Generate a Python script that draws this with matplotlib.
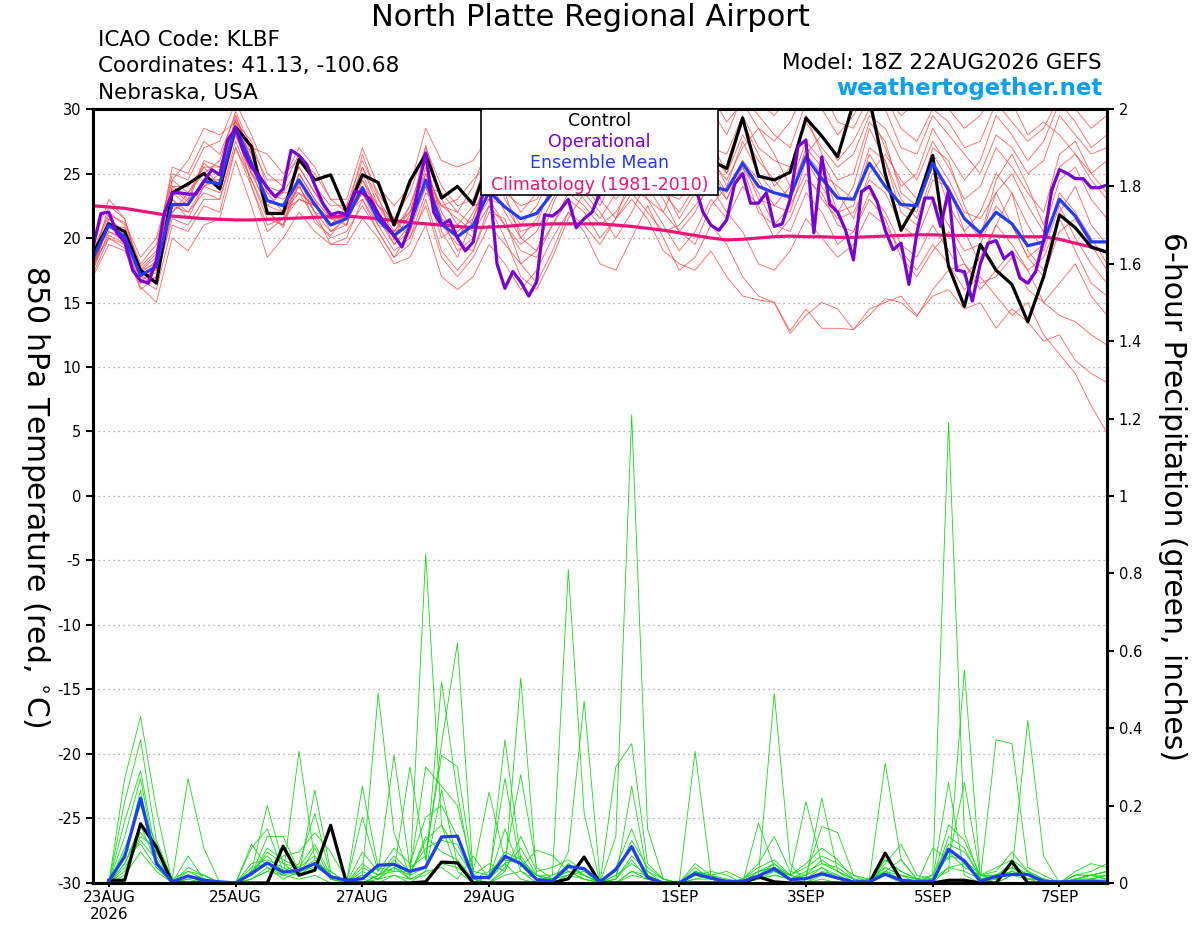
import numpy as np
from matplotlib import pyplot as plt
from matplotlib.patches import Rectangle

plt.rcParams['font.family'] = ['DejaVu Sans']
plt.rcParams['axes.unicode_minus'] = False

# 6-hourly steps from 18Z 22AUG2026 (index 0) to 18Z 7SEP2026 (index 64)
tick_pos = [1, 9, 17, 25, 37, 45, 53, 61]
tick_labels = ['23AUG\n2026', '25AUG', '27AUG', '29AUG', '1SEP', '3SEP', '5SEP', '7SEP']

control = [18.8, 21.1, 20.5, 17.5, 16.5, 23.5, 24.2, 25.0, 23.8, 28.6, 27.1, 21.9, 21.9,
           26.1, 24.5, 24.9, 22.0, 24.9, 24.3, 21.0, 24.4, 26.5, 23.1, 24.0, 22.6, 26.0,
           27.5, 26.0, 25.0, 26.5, 28.0, 27.0, 25.5, 24.8, 26.0, 27.5, 26.5, 25.0, 25.5,
           26.0, 25.4, 29.3, 24.8, 24.5, 25.1, 29.3, 27.9, 26.3, 30.5, 30.8, 25.0, 20.6,
           22.7, 26.4, 17.8, 14.7, 19.5, 17.5, 16.4, 13.5, 17.0, 21.8, 20.8, 19.3, 18.9]

ens_mean = [18.4, 21.0, 20.1, 17.1, 17.8, 22.6, 22.6, 24.4, 24.2, 28.6, 25.8, 22.9, 22.5,
            24.5, 22.6, 21.0, 21.5, 23.9, 21.4, 20.2, 21.1, 24.5, 21.1, 20.1, 21.0, 23.6,
            22.4, 21.5, 21.9, 23.5, 24.5, 24.8, 24.0, 24.6, 25.0, 24.3, 24.8, 24.2, 24.3,
            24.0, 23.7, 25.8, 24.0, 23.5, 23.2, 26.3, 24.6, 23.1, 23.0, 25.8, 24.0, 22.6,
            22.5, 25.8, 23.7, 21.5, 20.4, 22.0, 21.1, 19.4, 19.7, 23.0, 21.7, 19.7, 19.7]

climo = [22.5, 22.4, 22.3, 22.1, 21.9, 21.7, 21.6, 21.5, 21.45, 21.4, 21.4, 21.45, 21.5,
         21.55, 21.6, 21.65, 21.7, 21.6, 21.5, 21.35, 21.2, 21.1, 21.0, 20.9, 20.8, 20.85,
         20.9, 21.0, 21.05, 21.1, 21.1, 21.1, 21.1, 21.0, 20.9, 20.75, 20.6, 20.4, 20.2,
         20.0, 19.85, 19.9, 20.0, 20.1, 20.15, 20.1, 20.1, 20.05, 20.05, 20.1, 20.15, 20.2,
         20.25, 20.25, 20.2, 20.2, 20.2, 20.15, 20.1, 20.1, 20.1, 19.9, 19.6, 19.3, 18.9]

# operational run, 3-hourly
operational = [19.3, 21.9, 22.0, 20.4, 19.7, 17.5, 16.7, 16.5, 18.3, 21.9,
               23.5, 23.5, 23.4, 23.4, 24.4, 25.3, 24.9, 27.6, 28.5, 26.7,
               25.5, 24.8, 23.9, 23.2, 23.8, 26.8, 26.4, 25.7, 24.1, 22.7,
               21.8, 22.0, 21.8, 23.6, 23.5, 23.0, 21.9, 21.0, 20.2, 19.3,
               20.9, 23.7, 26.6, 22.0, 21.0, 21.4, 20.0, 19.0, 19.7, 23.0,
               24.5, 18.0, 16.1, 17.4, 16.6, 15.5, 16.6, 21.8, 21.7, 22.2,
               23.0, 20.8, 21.5, 22.0, 23.5, 25.0, 24.5, 26.0, 25.5, 24.0,
               25.0, 26.5, 25.0, 24.5, 25.5, 24.8, 24.0, 22.0, 21.0, 20.6,
               21.4, 24.2, 25.0, 22.7, 22.7, 23.5, 20.9, 21.1, 23.0, 27.1,
               27.6, 20.4, 26.3, 22.6, 22.0, 20.6, 18.3, 23.6, 24.0, 22.8,
               20.6, 19.1, 19.6, 16.4, 20.4, 23.1, 23.1, 20.9, 23.7, 17.5,
               17.4, 15.1, 18.0, 19.6, 19.8, 18.4, 18.9, 16.9, 16.5, 17.4,
               19.8, 23.7, 25.3, 25.0, 24.6, 24.6, 23.9, 23.9, 24.1]

members = [
    [17.5, 20.5, 19.8, 17.0, 16.5, 22.0, 23.5, 25.5, 24.0, 29.5, 26.5, 22.0, 21.0,
     25.0, 23.0, 20.5, 21.0, 24.5, 22.0, 19.5, 20.5, 25.0, 21.5, 19.0, 20.0, 24.0,
     22.5, 20.5, 21.0, 24.5, 26.0, 24.0, 22.5, 25.0, 27.0, 26.0, 23.5, 22.0, 24.0,
     26.5, 25.0, 28.0, 26.0, 24.5, 23.0, 27.0, 25.5, 22.0, 24.0, 28.5, 26.0, 23.0,
     21.5, 25.0, 24.0, 20.5, 18.0, 21.0, 23.5, 19.0, 17.5, 22.0, 24.0, 21.0, 19.5],
    [18.0, 21.5, 20.5, 17.5, 18.5, 23.0, 22.0, 24.0, 25.0, 28.0, 25.0, 23.5, 23.0,
     24.0, 22.0, 21.5, 22.0, 23.0, 21.0, 20.5, 22.0, 24.0, 20.0, 21.0, 22.5, 23.0,
     21.0, 19.0, 18.5, 21.0, 23.0, 22.0, 20.0, 21.5, 23.5, 22.0, 20.5, 21.0, 22.5,
     24.0, 22.0, 20.5, 18.0, 17.5, 19.0, 21.5, 20.0, 18.5, 19.5, 22.0, 21.0, 19.0,
     17.5, 19.5, 18.0, 16.0, 17.0, 15.5, 14.0, 15.0, 12.5, 11.0, 9.5, 7.0, 4.9],
    [17.0, 19.5, 19.0, 16.5, 17.0, 21.5, 21.0, 23.0, 23.0, 27.5, 24.5, 22.0, 22.0,
     23.5, 21.5, 20.0, 20.5, 22.5, 20.5, 18.5, 19.5, 23.0, 19.0, 17.5, 19.0, 22.0,
     21.5, 18.0, 16.5, 19.0, 22.0, 20.5, 18.0, 17.5, 20.0, 22.5, 20.0, 17.5, 18.5,
     21.0, 19.5, 17.0, 15.5, 15.0, 12.8, 14.5, 13.0, 13.0, 12.9, 14.5, 15.0, 15.5,
     14.0, 15.5, 16.0, 14.5, 15.0, 13.0, 14.5, 13.5, 12.0, 12.5, 10.5, 9.5, 8.8],
    [19.0, 22.0, 21.0, 18.0, 19.5, 25.0, 24.5, 27.0, 27.5, 30.5, 28.0, 25.0, 24.0,
     26.5, 24.0, 22.5, 22.5, 26.0, 23.5, 21.5, 23.5, 27.0, 24.0, 22.5, 23.0, 26.5,
     25.0, 24.0, 25.0, 27.5, 29.0, 28.5, 27.0, 28.0, 30.5, 29.5, 27.5, 26.0, 27.5,
     30.0, 28.0, 31.0, 29.5, 28.0, 27.0, 30.5, 31.5, 29.0, 28.5, 31.0, 30.0, 27.0,
     26.5, 29.5, 28.0, 26.5, 25.0, 28.0, 27.0, 25.0, 26.0, 29.5, 28.0, 26.5, 27.0],
    [18.5, 21.0, 20.0, 16.8, 16.0, 21.0, 20.5, 22.5, 22.0, 27.0, 24.0, 20.5, 21.5,
     23.0, 22.5, 21.0, 22.0, 24.0, 22.5, 21.0, 21.5, 24.5, 22.5, 21.5, 20.5, 22.5,
     20.0, 17.0, 16.0, 18.5, 21.5, 23.5, 22.0, 20.0, 22.0, 24.5, 23.0, 20.5, 19.5,
     22.5, 24.0, 25.5, 22.0, 21.0, 22.5, 25.0, 23.0, 21.5, 22.0, 24.5, 23.5, 21.0,
     20.0, 23.0, 21.0, 19.0, 19.5, 22.5, 21.0, 18.5, 19.5, 23.5, 22.0, 20.0, 18.0],
    [19.5, 23.0, 21.5, 17.5, 18.0, 24.0, 23.0, 26.0, 25.5, 29.0, 27.5, 24.0, 23.5,
     25.5, 23.5, 22.0, 21.0, 25.0, 22.0, 20.0, 22.5, 26.0, 20.5, 18.5, 21.5, 25.5,
     24.0, 22.0, 23.5, 26.0, 27.5, 25.5, 24.5, 27.0, 28.5, 27.0, 25.0, 24.0, 25.5,
     27.0, 26.5, 29.5, 27.0, 26.0, 25.5, 29.0, 27.0, 25.5, 26.5, 29.5, 28.5, 26.0,
     24.5, 27.5, 25.5, 23.0, 24.0, 27.0, 25.5, 23.5, 22.0, 26.5, 27.5, 25.0, 23.5],
    [18.0, 20.0, 19.5, 16.2, 15.0, 20.0, 19.0, 21.0, 21.5, 26.0, 22.5, 18.5, 20.0,
     22.0, 20.5, 19.5, 19.5, 21.5, 20.0, 18.0, 18.5, 21.0, 17.0, 16.0, 17.0, 19.5,
     18.0, 16.0, 17.5, 20.0, 22.0, 21.0, 19.5, 21.5, 23.0, 21.5, 19.0, 18.0, 17.5,
     19.0, 17.0, 15.5, 15.2, 15.0, 12.6, 14.0, 15.0, 14.5, 12.9, 14.0, 15.3, 15.0,
     13.9, 16.0, 17.5, 18.0, 16.5, 17.0, 18.5, 16.0, 15.0, 14.0, 13.5, 12.5, 11.7],
    [17.8, 21.0, 20.8, 17.8, 19.0, 25.5, 25.0, 27.5, 26.5, 29.5, 26.0, 22.5, 22.0,
     24.0, 22.0, 20.5, 21.5, 23.5, 21.0, 19.0, 20.0, 23.5, 22.5, 23.0, 24.5, 26.0,
     23.0, 21.0, 22.5, 25.0, 26.5, 24.0, 23.0, 26.5, 25.5, 23.0, 22.0, 25.0, 27.0,
     25.5, 23.0, 26.0, 24.5, 22.5, 24.0, 27.5, 26.0, 23.5, 21.5, 25.0, 26.5, 24.5,
     23.0, 26.0, 22.5, 20.5, 22.0, 25.0, 23.5, 21.0, 19.0, 22.5, 20.0, 18.0, 16.5],
    [18.2, 22.5, 21.5, 17.2, 17.5, 23.5, 22.5, 24.5, 24.5, 28.5, 25.5, 23.0, 22.5,
     25.5, 23.5, 21.5, 21.0, 24.0, 21.5, 19.5, 21.0, 25.5, 22.0, 20.0, 22.0, 24.5,
     23.5, 22.5, 23.0, 25.0, 24.5, 27.0, 26.0, 24.5, 26.0, 28.0, 26.5, 23.5, 24.5,
     26.0, 24.5, 27.0, 28.5, 26.5, 24.0, 26.5, 28.0, 26.0, 27.5, 30.0, 27.0, 24.0,
     25.0, 28.5, 26.5, 24.5, 26.0, 29.5, 28.0, 26.0, 27.5, 30.5, 29.0, 27.0, 28.0],
    [17.2, 20.0, 19.2, 16.0, 17.0, 22.5, 22.0, 23.5, 23.0, 27.0, 24.5, 21.5, 21.0,
     24.5, 22.0, 19.5, 20.0, 23.0, 20.5, 18.5, 20.5, 24.0, 21.0, 19.5, 19.0, 22.5,
     21.0, 19.5, 20.5, 23.0, 25.0, 23.0, 21.5, 23.5, 25.5, 24.0, 22.0, 20.5, 22.0,
     24.5, 23.0, 25.5, 23.5, 21.0, 20.5, 23.5, 22.0, 19.5, 20.5, 23.5, 22.0, 19.5,
     18.5, 21.0, 19.0, 17.0, 18.5, 21.0, 19.5, 17.5, 18.5, 21.5, 19.0, 16.5, 15.5],
    [18.8, 21.8, 21.2, 18.5, 20.0, 24.5, 26.0, 28.5, 28.0, 29.0, 27.0, 26.5, 25.0,
     26.0, 25.0, 23.0, 23.0, 27.0, 24.0, 22.5, 24.0, 28.5, 26.0, 25.5, 26.0, 28.0,
     27.0, 25.0, 26.0, 28.5, 30.5, 29.0, 27.5, 29.0, 31.0, 29.5, 28.0, 27.0, 29.0,
     31.0, 29.0, 30.5, 28.5, 27.5, 29.0, 31.5, 30.0, 28.0, 29.5, 32.0, 31.0, 28.5,
     27.5, 30.0, 29.0, 27.0, 27.5, 30.5, 29.0, 27.5, 28.5, 31.0, 30.0, 28.5, 29.5],
    [18.0, 20.8, 20.2, 17.3, 18.2, 23.0, 21.5, 24.0, 23.5, 28.0, 25.0, 22.5, 23.5,
     23.5, 22.5, 21.0, 22.5, 24.5, 22.5, 21.5, 20.0, 22.5, 18.5, 17.0, 18.5, 21.0,
     19.5, 18.0, 19.0, 21.0, 23.5, 22.5, 21.0, 22.0, 24.0, 23.0, 21.0, 19.0, 20.5,
     23.0, 21.5, 24.0, 22.5, 20.0, 21.5, 24.5, 23.5, 21.0, 20.5, 23.0, 21.5, 18.5,
     17.0, 19.0, 20.5, 18.0, 16.0, 17.5, 19.0, 17.5, 15.0, 16.5, 18.0, 15.5, 14.0],
    [17.5, 21.2, 19.5, 16.5, 17.8, 24.0, 24.0, 25.5, 25.5, 28.8, 24.0, 21.0, 21.5,
     25.0, 23.0, 21.5, 22.0, 25.5, 22.5, 20.5, 22.5, 26.0, 21.5, 20.5, 21.5, 24.5,
     22.0, 20.0, 21.5, 24.0, 25.5, 24.5, 23.5, 25.5, 26.5, 25.5, 23.5, 23.0, 24.5,
     26.5, 24.0, 27.5, 25.0, 23.5, 23.0, 26.5, 25.0, 24.0, 23.0, 27.0, 26.0, 22.0,
     21.0, 24.5, 24.0, 21.5, 20.0, 23.5, 25.0, 22.5, 20.5, 24.5, 25.5, 23.0, 21.5],
    [18.6, 20.5, 20.0, 17.0, 17.3, 22.0, 23.0, 24.0, 24.5, 28.5, 26.5, 23.5, 22.0,
     23.0, 22.5, 21.5, 21.5, 23.5, 21.5, 20.5, 21.0, 24.0, 23.5, 22.0, 21.0, 23.0,
     22.5, 21.5, 22.0, 23.5, 24.0, 25.5, 24.5, 23.0, 24.5, 26.0, 25.0, 23.5, 24.0,
     25.5, 23.5, 26.0, 23.0, 22.5, 22.0, 26.0, 24.0, 22.0, 22.5, 26.5, 24.5, 22.5,
     22.0, 26.5, 24.5, 22.0, 21.5, 23.5, 21.0, 18.5, 17.0, 20.5, 21.5, 19.5, 17.5],
    [18.3, 21.5, 20.3, 17.6, 18.8, 24.5, 23.5, 25.0, 26.0, 29.8, 27.0, 24.5, 24.5,
     27.0, 25.5, 23.0, 22.0, 25.5, 23.0, 21.0, 22.0, 25.0, 22.5, 22.0, 24.0, 27.5,
     26.0, 23.5, 24.0, 27.0, 28.0, 26.5, 28.0, 30.0, 29.0, 27.0, 29.5, 30.5, 28.5,
     29.0, 31.0, 32.0, 30.5, 29.5, 31.0, 33.0, 31.5, 30.0, 31.5, 32.5, 31.0, 29.5,
     30.5, 32.0, 30.0, 28.5, 29.5, 31.5, 30.5, 28.0, 29.0, 28.0, 26.5, 25.0, 26.0],
    [17.9, 20.2, 19.6, 16.7, 17.6, 23.8, 22.8, 25.8, 24.8, 29.2, 25.2, 22.2, 20.8,
     24.2, 21.2, 20.2, 21.8, 26.5, 23.2, 19.8, 21.8, 27.2, 23.0, 21.0, 20.0, 25.0,
     23.5, 20.0, 19.0, 22.5, 25.5, 26.5, 23.0, 21.5, 25.0, 27.5, 24.0, 21.5, 23.5,
     27.5, 25.0, 29.0, 26.5, 24.0, 25.5, 29.5, 26.5, 24.5, 25.0, 29.0, 27.5, 23.5,
     22.5, 27.0, 26.0, 22.5, 20.0, 24.5, 26.5, 24.0, 21.0, 25.5, 26.5, 24.5, 23.0],
]

# 6-hour precipitation, 00Z 23AUG (index 1) to 18Z 7SEP (index 64)
precip_control = [0.007, 0.007, 0.153, 0.093, 0, 0, 0, 0,
                  0, 0, 0, 0.095, 0.02, 0.033, 0.149, 0,
                  0, 0, 0, 0, 0.003, 0.054, 0.052, 0,
                  0, 0, 0, 0, 0, 0.011, 0.067, 0,
                  0, 0, 0, 0, 0, 0, 0, 0,
                  0, 0.016, 0.003, 0, 0, 0, 0, 0,
                  0, 0.077, 0.007, 0, 0, 0.007, 0.007, 0,
                  0, 0.055, 0, 0, 0, 0, 0, 0]

precip_mean = [0.005, 0.068, 0.219, 0.051, 0.003, 0.018, 0.007, 0.003,
               0, 0.024, 0.052, 0.028, 0.033, 0.05, 0.016, 0.007,
               0.011, 0.046, 0.048, 0.03, 0.041, 0.119, 0.121, 0.014,
               0.014, 0.069, 0.05, 0.009, 0.005, 0.043, 0.037, 0.003,
               0.035, 0.094, 0.014, 0, 0, 0.024, 0.013, 0.004,
               0.004, 0.018, 0.037, 0.009, 0.011, 0.024, 0.013, 0.003,
               0.003, 0.023, 0.007, 0.004, 0.004, 0.087, 0.057, 0.004,
               0.017, 0.022, 0.022, 0.004, 0.003, 0.004, 0.004, 0.003]

precip_members = [
    [0, .27, .43, .19, 0, .02, 0, 0,
     0, .03, .20, .05, .02, .24, .03, 0,
     0, .02, .05, .01, .85, .15, .03, 0,
     .02, .05, .01, 0, .02, .81, .18, 0,
     .01, .25, .02, 0, 0, .03, .01, 0,
     0, .02, .49, .05, 0, .01, 0, 0,
     0, .02, 0, 0, .01, .26, .02, 0,
     .01, .03, .42, .07, 0, 0, .01, 0],
    [0, .21, .37, .11, .01, .27, .09, 0,
     0, .01, .04, .02, .34, .06, .01, 0,
     .02, .49, .13, .02, .04, .52, .23, .01,
     0, .03, .53, .02, 0, .05, .02, 0,
     .12, 1.21, .14, .01, 0, .02, .01, 0,
     0, .01, .03, .02, .01, .22, .03, 0,
     0, .02, .01, 0, .02, 1.19, .13, .01,
     0, .02, .03, 0, 0, .01, .02, .01],
    [0, .16, .29, .07, 0, .03, .02, 0,
     0, .09, .14, .03, .05, .18, .02, 0,
     .25, .04, .03, .30, .06, .36, .62, .02,
     .01, .37, .06, .01, 0, .08, .47, .01,
     0, .03, .02, 0, 0, .34, .02, 0,
     0, .03, .05, .01, .02, .04, .01, 0,
     .01, .31, .06, .01, 0, .04, .05, .01,
     .37, .36, .04, .02, 0, .02, .03, .05],
    [0, .12, .27, .05, 0, .07, .01, 0,
     0, .02, .12, .12, .03, .05, .02, 0,
     .17, .03, .33, .04, .07, .33, .30, .03,
     .235, .06, .28, .04, .01, .02, .03, 0,
     .30, .36, .05, .01, 0, .02, .03, .02,
     0, .155, .04, .02, .21, .05, .03, .01,
     0, .05, .10, .02, .01, .03, .55, .02,
     .02, .05, .01, .01, 0, .03, .05, .04],
    [0, .07, .24, .04, 0, .01, .02, 0,
     0, .01, .03, .07, .08, .13, .08, .01,
     0, .02, .04, .01, .03, .24, .05, 0,
     .02, .27, .04, .085, .07, .03, .01, 0,
     0, .02, .01, 0, 0, .01, .02, .03,
     .01, .05, .12, .03, .02, .146, .13, .02,
     0, .03, .01, 0, .09, .06, .26, .02,
     .01, .03, .01, .01, 0, .02, .02, .03],
    [0, .05, .15, .05, 0, .01, 0, 0,
     0, .10, .04, .01, .03, .04, .02, 0,
     0, .01, .02, 0, .03, .04, .01, .07,
     .01, .14, .03, 0, .01, .02, .04, 0,
     .01, .06, .01, 0, 0, .02, .01, .01,
     0, .01, .02, .01, 0, .03, .02, 0,
     .01, .03, .06, .01, 0, .08, .04, .02,
     .01, .05, .02, 0, 0, .01, .01, .01],
    [0, .03, .12, .09, .01, 0, .01, 0,
     0, .05, .06, .04, .02, .09, .01, 0,
     .03, .01, .06, .02, .12, .08, .06, .01,
     0, .04, .09, .02, .01, .03, .01, 0,
     .03, .09, .02, 0, 0, .05, .02, 0,
     .01, .04, .06, .02, .01, .04, .02, 0,
     0, .06, .03, .01, 0, .12, .09, .01,
     .02, .04, .02, .01, 0, .01, .02, .03],
    [0, .08, .10, .04, 0, .02, .01, 0,
     0, .02, .09, .06, .04, .07, .01, 0,
     .08, .03, .09, .05, .17, .20, .12, .02,
     .05, .03, .12, .03, .04, .06, .03, 0,
     .02, .11, .04, .01, 0, .03, .02, .01,
     0, .02, .05, .02, .04, .07, .05, .02,
     .01, .04, .02, .01, .02, .10, .08, .02,
     .04, .06, .03, .01, 0, .01, .01, .02],
    [0, .02, .08, .03, 0, 0, 0, 0,
     0, .01, .03, .02, .01, .02, 0, 0,
     .01, 0, .02, .01, .02, .05, .04, .01,
     0, .02, .03, .01, 0, .02, .01, 0,
     0, .03, .01, 0, 0, .01, .01, 0,
     0, .01, .02, .01, 0, .02, .01, 0,
     0, .02, .01, 0, .01, .04, .03, .01,
     0, .02, .01, 0, 0, 0, .01, .02],
    [0, .04, .11, .06, 0, .04, .02, 0,
     0, .03, .07, .03, .02, .05, .03, 0,
     .05, .02, .03, .03, .09, .11, .10, .01,
     .03, .06, .05, .02, .02, .04, .02, 0,
     .01, .07, .03, .01, 0, .04, .01, 0,
     .01, .03, .04, .01, .03, .05, .04, .01,
     .01, .03, .02, .01, .01, .07, .06, .02,
     .02, .03, .02, .01, 0, .01, .02, .01],
    [0, .05, .13, .08, .01, .03, .01, 0,
     0, .04, .05, .02, .03, .06, .02, 0,
     .02, .01, .04, .02, .11, .15, .08, .02,
     .01, .05, .07, .01, .01, .03, .02, 0,
     .02, .05, .02, 0, 0, .02, .01, 0,
     0, .02, .03, .01, .02, .06, .03, .01,
     0, .04, .02, 0, .01, .09, .05, .01,
     .02, .04, .01, .01, 0, .01, .02, .02],
    [0, .09, .20, .10, 0, .02, .01, 0,
     0, .02, .08, .05, .04, .10, .02, 0,
     .04, .02, .07, .03, .30, .25, .20, .03,
     .02, .08, .06, .02, .01, .05, .02, 0,
     .04, .14, .03, 0, 0, .03, .02, 0,
     0, .03, .04, .02, .05, .09, .06, .01,
     0, .06, .03, .01, .01, .15, .11, .02,
     .03, .08, .03, .01, 0, .02, .02, .03],
]

for m in members + [control, ens_mean, climo]:
    assert len(m) == 65, len(m)
for p in precip_members + [precip_control, precip_mean]:
    assert len(p) == 64, len(p)
assert len(operational) == 129, len(operational)

t6 = np.arange(65)
t3 = np.arange(129) / 2
tp = np.arange(1, 65)

fig = plt.figure(figsize=(12, 9.27), dpi=100)
ax = fig.add_axes([0.0775, 0.0475, 0.845, 0.8349])
ax2 = ax.twinx()

for m in members:
    ax.plot(t6, m, color='#ff4646', lw=0.6, alpha=0.85)
ax.plot(t6, climo, color='#f0147a', lw=2.3)
ax.plot(t6, control, color='black', lw=2.3)
ax.plot(t6, ens_mean, color='#1f3cff', lw=2.3)
ax.plot(t3, operational, color='#7a00d9', lw=2.3)

for p in precip_members:
    ax2.plot(tp, p, color='#11dd11', lw=0.6)
ax2.plot(tp, precip_control, color='black', lw=2.3)
ax2.plot(tp, precip_mean, color='#1f3cff', lw=2.3)

ax.set_xlim(0, 64)
ax.set_ylim(-30, 30)
ax2.set_ylim(0, 2)

ax.set_yticks(np.arange(-30, 31, 5))
ax.yaxis.grid(True, linestyle=(0, (1, 3)), color='#9a9a9a', lw=0.9)
ax.set_xticks(tick_pos)
ax.set_xticklabels(tick_labels)
ax2.set_yticks(np.arange(0, 2.01, 0.2))
ax2.set_yticklabels(['0', '0.2', '0.4', '0.6', '0.8', '1', '1.2', '1.4', '1.6', '1.8', '2'])

for a in (ax, ax2):
    for s in a.spines.values():
        s.set_linewidth(2.2)
    a.tick_params(labelsize=10.5, width=1.5, length=5, direction='out', colors='black')
ax.tick_params(axis='x', length=3, pad=2, labelsize=11)

# legend box
ax2.add_patch(Rectangle((0.3826, 0.889), 0.2338, 0.111, transform=ax2.transAxes,
                        facecolor='white', edgecolor='black', lw=1.2, zorder=10))
legend_items = [('Control', 'black', 0.9845), ('Operational', '#7a00d9', 0.9574),
                ('Ensemble Mean', '#1f3cff', 0.9302), ('Climatology (1981-2010)', '#f0147a', 0.9018)]
for txt, col, yy in legend_items:
    ax2.text(0.4995, yy, txt, color=col, fontsize=12.5, ha='center', va='center',
             transform=ax2.transAxes, zorder=11)

fig.text(590 / 1200, 1 - 18 / 927, 'North Platte Regional Airport', ha='center', va='center', fontsize=22)
fig.text(98 / 1200, 1 - 40 / 927, 'ICAO Code: KLBF', va='center', fontsize=15.5)
fig.text(98 / 1200, 1 - 66 / 927, 'Coordinates: 41.13, -100.68', va='center', fontsize=15.5)
fig.text(98 / 1200, 1 - 93 / 927, 'Nebraska, USA', va='center', fontsize=15.5)
fig.text(1102 / 1200, 1 - 63 / 927, 'Model: 18Z 22AUG2026 GEFS', ha='right', va='center', fontsize=15.5)
fig.text(1102 / 1200, 1 - 89 / 927, 'weathertogether.net', ha='right', va='center', fontsize=16.5,
         fontweight='bold', color='#0aa0f5')

fig.text(35 / 1200, 1 - 496 / 927, '850 hPa Temperature (red, $^{\\circ}$C)', rotation=270,
         ha='center', va='center', fontsize=21.5)
fig.text(1172 / 1200, 1 - 496 / 927, '6-hour Precipitation (green, inches)', rotation=270,
         ha='center', va='center', fontsize=21.5)

fig.savefig('out.png', dpi=100)
